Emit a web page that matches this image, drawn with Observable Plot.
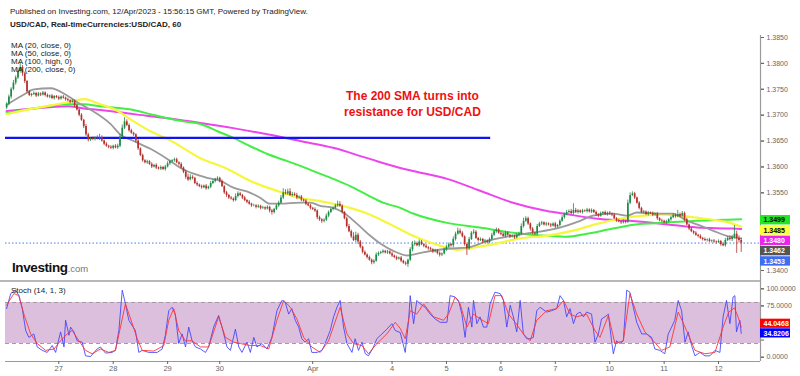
<!DOCTYPE html>
<html><head><meta charset="utf-8">
<script src="https://cdn.jsdelivr.net/npm/d3@7"></script>
<script src="https://cdn.jsdelivr.net/npm/@observablehq/plot@0.6"></script>
<style>
body{margin:0;background:#fff;}
#wrap{position:relative;width:800px;height:376px;overflow:hidden;font-family:"Liberation Sans",Arial,sans-serif;background:#fff;}
#wrap svg{display:block;}
.ov{position:absolute;white-space:nowrap;color:#222;}
</style></head><body><div id="wrap"></div>
<script>
// ---------- DATA ----------
const headerLine1 = "Published on Investing.com, 12/Apr/2023 - 15:56:15 GMT, Powered by TradingView.";
const headerLine2 = "USD/CAD, Real-timeCurrencies:USD/CAD, 60";
const maLegend = ["MA (20, close, 0)", "MA (50, close, 0)", "MA (100, high, 0)", "MA (200, close, 0)"];
const stochTitle = "Stoch (14, 1, 3)";
const annotation = "The 200 SMA turns into\nresistance for USD/CAD";
const annotationAt = [179, 1.3723]; // bar, price

// hourly closes, bar 0..324
const firstOpen = 1.3714;
const close = [
1.3721,1.3735,1.3750,1.3762,1.3772,1.3785,1.3792,1.3780,1.3765,1.3745,1.3738,1.3740,1.3742,1.3737,1.3741,1.3739,1.3743,1.3738,1.3735,1.3737,1.3732,1.3736,1.3734,1.3731,1.3735,
1.3733,1.3730,1.3728,1.3725,1.3727,1.3718,1.3710,1.3700,1.3690,1.3678,1.3662,1.3652,1.3655,1.3653,1.3656,1.3654,1.3657,1.3650,1.3644,1.3640,1.3638,1.3636,1.3640,1.3637,1.3640,
1.3658,1.3675,1.3687,1.3680,1.3670,1.3665,1.3662,1.3650,1.3635,1.3622,1.3612,1.3608,1.3610,1.3605,1.3600,1.3603,1.3598,1.3596,1.3599,1.3595,1.3600,1.3606,1.3610,1.3612,1.3614,
1.3608,1.3605,1.3598,1.3590,1.3580,1.3575,1.3580,1.3578,1.3568,1.3565,1.3562,1.3560,1.3563,1.3558,1.3561,1.3568,1.3572,1.3576,1.3578,1.3572,1.3562,1.3550,1.3545,1.3540,1.3538,
1.3535,1.3543,1.3548,1.3545,1.3540,1.3535,1.3532,1.3528,1.3525,1.3525,1.3522,1.3524,1.3520,1.3521,1.3519,1.3522,1.3515,1.3512,1.3518,1.3525,1.3530,1.3540,1.3550,1.3548,1.3552,
1.3545,1.3547,1.3545,1.3540,1.3542,1.3536,1.3534,1.3528,1.3525,1.3520,1.3518,1.3515,1.3502,1.3498,1.3495,1.3497,1.3505,1.3512,1.3518,1.3520,1.3525,1.3528,1.3524,1.3512,1.3500,
1.3485,1.3475,1.3465,1.3458,1.3468,1.3455,1.3445,1.3435,1.3430,1.3425,1.3420,1.3415,1.3418,1.3430,1.3433,1.3435,1.3437,1.3434,1.3436,1.3432,1.3428,1.3425,1.3422,1.3424,1.3418,
1.3414,1.3412,1.3420,1.3440,1.3450,1.3452,1.3448,1.3455,1.3450,1.3447,1.3444,1.3442,1.3440,1.3436,1.3438,1.3433,1.3430,1.3432,1.3440,1.3445,1.3450,1.3448,1.3460,1.3470,1.3476,
1.3472,1.3465,1.3450,1.3442,1.3460,1.3472,1.3474,1.3462,1.3458,1.3460,1.3455,1.3457,1.3454,1.3460,1.3468,1.3475,1.3478,1.3472,1.3470,1.3466,1.3472,1.3468,1.3465,1.3466,1.3463,
1.3468,1.3470,1.3485,1.3495,1.3500,1.3490,1.3480,1.3472,1.3470,1.3485,1.3490,1.3492,1.3488,1.3490,1.3488,1.3486,1.3490,1.3484,1.3487,1.3495,1.3502,1.3508,1.3512,1.3514,1.3510,
1.3516,1.3512,1.3515,1.3512,1.3515,1.3514,1.3517,1.3513,1.3516,1.3512,1.3508,1.3505,1.3510,1.3512,1.3508,1.3511,1.3509,1.3507,1.3500,1.3496,1.3494,1.3492,1.3495,1.3493,1.3530,
1.3545,1.3548,1.3540,1.3530,1.3520,1.3512,1.3513,1.3508,1.3511,1.3510,1.3507,1.3509,1.3500,1.3496,1.3495,1.3492,1.3494,1.3498,1.3502,1.3506,1.3504,1.3508,1.3505,1.3510,1.3498,
1.3488,1.3480,1.3475,1.3472,1.3468,1.3466,1.3462,1.3460,1.3458,1.3459,1.3456,1.3457,1.3455,1.3454,1.3456,1.3450,1.3448,1.3458,1.3462,1.3460,1.3464,1.3470,1.3462,1.3458,1.3453];
// wick lengths in pips above / below the body
const wickUp = [
3,4,3,5,4,6,10,4,3,2,3,2,3,2,3,2,3,2,3,2,3,2,2,3,2,
3,2,3,2,3,2,3,2,3,2,4,3,2,3,2,4,6,3,2,3,2,3,2,3,4,
5,6,8,4,3,3,2,2,3,2,3,2,3,2,3,2,3,2,3,2,3,4,3,2,3,
3,2,3,2,4,6,5,3,2,3,2,3,2,3,2,4,3,2,3,2,3,2,3,2,3,
2,5,4,3,2,3,2,3,2,3,2,3,2,3,2,3,2,3,2,3,4,5,8,6,5,
6,4,3,4,2,3,2,3,2,3,2,3,2,3,2,3,4,3,2,3,3,6,5,3,2,
3,4,3,8,6,4,3,2,3,2,3,2,3,4,3,2,3,2,3,2,3,2,3,2,3,
2,3,2,4,6,5,3,4,3,2,3,2,3,2,3,2,3,2,3,4,3,2,5,4,6,
4,3,2,3,4,3,5,3,2,3,2,3,2,3,4,3,4,3,2,3,4,3,2,3,2,
3,4,5,6,4,3,2,3,2,4,3,3,2,3,2,3,2,3,2,3,4,3,4,3,4,
13,4,3,2,3,2,3,2,3,2,3,2,3,2,3,2,3,2,3,2,3,2,3,2,6,
5,4,3,2,3,2,3,2,3,2,3,2,3,2,3,2,3,2,3,4,3,8,3,4,3,
3,2,3,2,3,2,3,2,3,2,3,2,3,2,3,2,3,4,3,5,4,17,6,5,4];
const wickDown = [
3,3,4,3,4,3,4,5,4,3,2,3,2,3,2,3,2,3,2,3,2,3,2,3,2,
2,3,2,3,2,3,2,3,2,4,3,4,3,2,3,2,3,2,3,2,3,2,3,2,3,
3,2,3,2,3,2,3,4,3,2,3,2,3,2,3,2,3,2,3,2,3,2,3,2,3,
2,3,2,3,4,3,2,3,2,3,2,3,2,3,2,3,2,3,2,3,2,3,4,3,2,
3,2,3,2,3,2,3,2,3,2,3,2,3,2,3,2,4,5,3,2,3,2,3,2,3,
2,3,2,3,2,3,2,3,2,3,2,3,4,3,4,3,2,3,2,3,2,3,2,3,2,
3,2,3,2,4,5,3,3,2,3,2,4,3,2,3,2,3,2,3,2,3,2,3,2,3,
2,3,6,3,4,3,2,3,2,3,2,3,2,3,2,3,4,3,2,3,2,3,4,3,2,
3,2,3,13,3,2,3,2,3,2,3,2,3,2,3,2,3,2,3,2,3,2,3,2,3,
2,3,2,3,2,3,4,3,2,3,2,3,2,3,2,3,2,3,2,3,2,3,2,3,2,
3,2,3,2,3,2,3,2,3,2,4,3,2,3,2,3,2,3,2,3,2,3,2,3,2,
3,2,3,2,3,2,3,2,3,2,3,2,3,2,3,2,3,2,3,2,3,2,3,2,3,
2,3,2,3,2,3,2,3,2,3,2,3,2,3,2,3,2,3,2,3,4,3,29,5,18];

// moving averages [bar, price]
const ma20 = [[0.4,1.3721],[8.4,1.3742],[12,1.3750],[19.4,1.3752],[27,1.3737],[32.6,1.3721],[38,1.3708],[45.8,1.3683],[50,1.3663],[56,1.3650],[63.4,1.3635],[71,1.3615],[76.7,1.3598],[82.4,1.3587],[88.5,1.3579],[94.3,1.3573],[100,1.3560],[107.5,1.3550],[112,1.3540],[116,1.3529],[120.7,1.3529],[129.5,1.3531],[134,1.3531],[138.3,1.3525],[144,1.3521],[148.5,1.3512],[154.6,1.3490],[160.4,1.3467],[164.8,1.3452],[170.5,1.3438],[176.7,1.3429],[183.7,1.3435],[194.3,1.3442],[203,1.3444],[213,1.3458],[223,1.3467],[232,1.3473],[244,1.3483],[253,1.3496],[258.6,1.3506],[267.4,1.3510],[273.6,1.3506],[278,1.3512],[289.4,1.3510],[293.8,1.3510],[300,1.3496],[305.7,1.3487],[311.5,1.3477],[317.6,1.3467],[324,1.3462]];
const ma50 = [[0,1.3702],[12,1.3713],[27,1.3725],[34,1.3731],[41.4,1.3721],[49,1.3708],[56,1.3688],[63.4,1.3669],[71,1.3654],[85.5,1.3617],[97.4,1.3596],[107.5,1.3573],[115,1.3560],[122,1.3550],[129.5,1.3540],[137,1.3535],[144,1.3529],[151.5,1.3521],[159,1.3510],[166,1.3496],[172,1.3483],[179.3,1.3467],[186.8,1.3454],[194.3,1.3444],[198.7,1.3440],[205.7,1.3444],[216,1.3452],[226.4,1.3462],[238.3,1.3467],[249.8,1.3477],[260.4,1.3490],[270.5,1.3500],[280.6,1.3506],[289.4,1.3508],[296.9,1.3506],[304.4,1.3502],[311.5,1.3498],[319,1.3492],[324,1.3485]];
const ma100 = [[0,1.3704],[12,1.3713],[27,1.3721],[34,1.3721],[41.4,1.3717],[56,1.3710],[63.4,1.3702],[71,1.3694],[78,1.3688],[85.5,1.3683],[93,1.3669],[100,1.3656],[107.5,1.3640],[115,1.3625],[122,1.3614],[129.5,1.3602],[137,1.3589],[144,1.3577],[151.5,1.3563],[159,1.3546],[166,1.3531],[173.6,1.3521],[179.3,1.3510],[194.3,1.3492],[208.8,1.3483],[223.3,1.3473],[238.3,1.3467],[247.1,1.3465],[256,1.3471],[267.4,1.3481],[279.3,1.3490],[289.4,1.3492],[304.4,1.3496],[324,1.3499]];
const ma200 = [[0,1.3708],[12,1.3713],[27,1.3717],[34,1.3713],[41.4,1.3710],[56,1.3702],[71,1.3694],[85.5,1.3685],[100,1.3675],[115,1.3663],[129.5,1.3650],[144,1.3637],[159,1.3617],[173.6,1.3598],[179.3,1.3592],[194.3,1.3577],[208.8,1.3554],[223.3,1.3531],[238.3,1.3515],[245.4,1.3510],[260.4,1.3500],[274.9,1.3496],[289.4,1.3490],[304.4,1.3483],[319,1.3481],[324,1.3480]];

const resistance = 1.3656, resistanceEndBar = 213.5;

// stochastic [bar, value]
const stochK = [[0,71],[1.8,93],[4,98],[5.4,90],[6.9,71],[8.4,39],[9.8,29],[12,34],[13.5,15],[15.7,10],[17.9,7],[20.1,17],[21.6,7],[23.8,37],[25.3,15],[26,54],[27.5,32],[28.2,44],[29.7,37],[31.1,24],[33.3,22],[34.8,2],[37,1],[39.9,12],[41.4,15],[43.6,6],[46.5,7],[48,10],[49.5,39],[51,98],[52.4,78],[53.9,54],[55.4,46],[56.8,39],[58.3,7],[59.8,10],[62.7,7],[66.4,7],[68.6,12],[70,32],[71.5,68],[73,73],[74.4,63],[75.9,20],[77.4,34],[78.9,15],[80.3,44],[81.8,24],[83.3,15],[85.5,12],[87.7,7],[89.1,15],[91.3,44],[93.5,61],[95,44],[97.2,15],[98.7,10],[100.9,41],[102.4,15],[103.8,7],[106,22],[107.5,7],[109,29],[110.4,15],[112.6,20],[114.8,12],[117,29],[119.2,68],[121.4,83],[122.9,80],[124.4,63],[125.8,71],[127.3,54],[128.8,44],[130.2,27],[131.7,22],[133.2,27],[134.6,7],[136.9,7],[139.1,10],[140.5,20],[142.7,39],[144.2,59],[145.7,73],[147.1,83],[148.6,44],[150.1,20],[152.3,7],[153.7,27],[155.2,10],[156.7,22],[158.2,5],[159.6,2],[161.8,15],[163.3,27],[165.5,34],[167.7,41],[169.9,49],[171.4,39],[173.6,36],[175.8,7],[177.3,54],[178,90],[179.5,49],[180.9,83],[182.4,78],[184.6,73],[186.8,63],[189,56],[191.2,51],[194.2,51],[195.6,90],[197.8,88],[199.3,83],[200.8,63],[202.2,29],[203.7,73],[205.2,44],[205.9,83],[207.4,49],[208.8,59],[210.3,44],[211.8,44],[213.2,78],[215.4,95],[217.7,93],[219.1,83],[220.6,44],[222.1,76],[223.5,59],[225,37],[226.5,83],[227.9,34],[229.4,27],[230.9,27],[232.3,29],[233.8,68],[235.3,73],[238.2,66],[240.4,68],[242.6,71],[244.1,90],[245.6,83],[247,59],[248.5,71],[250,49],[251.4,63],[252.9,66],[254.4,59],[255.8,66],[258,63],[259.5,22],[261,34],[262.4,56],[263.9,59],[265.4,63],[266.8,24],[267.6,5],[269,24],[270.5,20],[272,24],[273.5,98],[274.9,95],[276.4,73],[277.9,51],[280.1,34],[282.3,34],[284.5,29],[285.9,12],[288.1,10],[290.3,5],[291.8,34],[293.3,44],[294.7,54],[296.2,83],[297.7,68],[299.2,22],[300.6,37],[302.1,17],[303.6,2],[305.8,7],[308,2],[310.2,2],[312.4,10],[314.6,7],[316,59],[317.5,83],[319,49],[320.4,88],[321.2,90],[321.9,37],[323.4,54],[324,34.8206]];
const stochD = [[0,76],[3.2,93],[5.4,90],[7.6,63],[10.6,34],[13.5,20],[17.2,10],[20.9,12],[23.8,24],[26.7,34],[28.9,39],[31.9,24],[34.8,10],[37.7,5],[41.4,12],[45.1,7],[48,10],[50.2,44],[52.4,78],[55.4,49],[57.6,27],[59.8,10],[64.9,9],[69.3,17],[71.5,54],[73.7,71],[75.9,39],[78.9,24],[81.8,24],[85.5,15],[89.1,15],[93.5,59],[96.5,29],[100.1,22],[103.1,20],[107.5,17],[111.9,17],[115.6,12],[119.2,54],[122.2,83],[125.1,73],[128,56],[131,29],[134.6,15],[138.3,7],[142,24],[147.1,73],[150.1,34],[153,20],[156.7,17],[159.6,5],[163.3,20],[167.7,34],[171.4,51],[173.6,42],[175.8,27],[178,68],[180.9,63],[183.9,78],[188.3,59],[192.7,54],[194.9,63],[197.8,88],[200,78],[203,44],[205.9,63],[208.8,56],[212.5,49],[215.4,90],[218.4,90],[221.3,63],[224.3,51],[227.9,34],[230.9,24],[233.8,54],[238.2,68],[242.6,71],[245.6,83],[248.5,63],[251.4,59],[255.8,63],[259.5,39],[261.7,29],[265.4,61],[268.3,20],[272,24],[274.9,93],[277.9,63],[281.5,37],[285.2,24],[288.9,10],[292.5,15],[296.2,66],[299.9,39],[303.6,10],[308,5],[312.4,7],[316,44],[318.5,66],[321,72],[322.5,60],[324,44.0468]];
const stochBands = [20, 80];

const dayTickBar = [23,47,71,94,135,170,194,218,242,266,290,314];
const dayTickLabel = ["27","28","29","30","Apr","4","5","6","7","10","11","12"];
const priceTicks = [1.3400,1.3450,1.3500,1.3550,1.3600,1.3650,1.3700,1.3750,1.3800,1.3850];
const stochTicks = [0,25,50,75,100];

// ---------- STYLE / LAYOUT ----------
const FONT = "Liberation Sans, Arial, sans-serif";
const UP = "#1f8a48", DOWN = "#b3302b", AXIS = "#9a9a9a", TICKTXT = "#666";
const xDomain = [-0.5, 332.5], xRange = [5, 760];
const xS = Plot.scale({x: {domain: xDomain, range: xRange}});
const yMainOpts = {domain: [1.34, 1.385], range: [270, 37]};
const yS = Plot.scale({y: yMainOpts});
const yStochOpts = {domain: [0, 100], range: [75.7, 7.3]};
const ySt = Plot.scale({y: yStochOpts});
const xEnd = xDomain[1];
const boxEnd = xS.invert(790), textX = xS.invert(763);
const fmt4 = d3.format(".4f");

const bars = close.map((c, i) => {
  const o = i === 0 ? firstOpen : close[i - 1];
  return {i, o, c, c2: c === o ? c + 0.00003 : c,
    hi: Math.max(o, c) + wickUp[i] / 1e4, lo: Math.min(o, c) - wickDown[i] / 1e4, up: c >= o};
});
const upBars = bars.filter(d => d.up), dnBars = bars.filter(d => !d.up);

// last-value labels on the price axis
const lastItems = [
  {v: ma100.at(-1)[1], fill: "#22e622", text: "#000"},
  {v: ma50.at(-1)[1], fill: "#ffff3a", text: "#000"},
  {v: ma200.at(-1)[1], fill: "#ee22ee", text: "#fff"},
  {v: ma20.at(-1)[1], fill: "#555555", text: "#fff"},
  {v: close.at(-1), fill: "#3d6df0", text: "#fff"}
].sort((a, b) => b.v - a.v);
{ let prev = -Infinity;
  for (const d of lastItems) { const py = Math.max(yS.apply(d.v) + 1, prev + 10.3); prev = py; d.py = py;
    d.yc = yS.invert(py); d.y1 = yS.invert(py - 4.7); d.y2 = yS.invert(py + 4.7); } }
const stochItems = [
  {v: stochK.at(-1)[1], fill: "#0000ff", text: "#fff"},
  {v: stochD.at(-1)[1], fill: "#ff0000", text: "#fff"}
].sort((a, b) => a.v - b.v);
{ let prev = Infinity;
  for (const d of stochItems) { const py = Math.min(ySt.apply(d.v), prev - 9.6); prev = py; d.py = py;
    d.yc = ySt.invert(py); d.y1 = ySt.invert(py - 4.6); d.y2 = ySt.invert(py + 4.6); } }

// tick labels hidden behind a value box (as on the reference) are not drawn
const visibleTicks = (ticks, scale, items) => ticks.filter(t => items.every(d => Math.abs(scale.apply(t) - d.py) > 8.5));

const boxMarks = (items) => items.flatMap(d => [
  Plot.rect([d], {x1: xEnd, x2: boxEnd, y1: "y1", y2: "y2", fill: d.fill}),
  Plot.text([d], {x: textX, y: "yc", text: d => fmt4(d.v), textAnchor: "start", fill: d.text, fontSize: 7, fontWeight: "bold"})
]);
const mline = (data, stroke, w) => Plot.line(data, {x: d => d[0], y: d => d[1], stroke, strokeWidth: w, curve: "monotone-x"});

const main = Plot.plot({
  width: 800, height: 281, marginLeft: 0, marginRight: 40, marginTop: 0, marginBottom: 0,
  x: {domain: xDomain, range: xRange, axis: null},
  y: {...yMainOpts, label: null},
  style: {fontFamily: FONT, background: "#fff", overflow: "visible"},
  marks: [
    Plot.ruleY([close.at(-1)], {x1: xDomain[0], x2: xEnd, stroke: "#4a78ee", strokeWidth: 1, strokeDasharray: "1.5,2"}),
    mline(ma200, "#ee44ee", 2),
    mline(ma100, "#44ee44", 2),
    mline(ma50, "#f6f63c", 2.2),
    mline(ma20, "#9a9a9a", 1.8),
    Plot.ruleY([resistance], {x1: xDomain[0], x2: resistanceEndBar, stroke: "#1212f0", strokeWidth: 2.2}),
    Plot.ruleX(upBars, {x: "i", y1: "lo", y2: "hi", stroke: UP, strokeWidth: 0.8}),
    Plot.ruleX(dnBars, {x: "i", y1: "lo", y2: "hi", stroke: DOWN, strokeWidth: 0.8}),
    Plot.ruleX(upBars, {x: "i", y1: "o", y2: "c2", stroke: UP, strokeWidth: 1.7}),
    Plot.ruleX(dnBars, {x: "i", y1: "o", y2: "c2", stroke: DOWN, strokeWidth: 1.7}),
    Plot.ruleX([xEnd], {y1: yS.invert(35), y2: yS.invert(281), stroke: AXIS, strokeWidth: 1.2}),
    Plot.axisY(priceTicks, {anchor: "right", tickFormat: () => "", tickSize: 3, color: TICKTXT, label: null}),
    Plot.axisY(visibleTicks(priceTicks, yS, lastItems), {anchor: "right", tickFormat: fmt4, tickSize: 3, tickPadding: 3, fontSize: 7, color: TICKTXT, label: null}),
    Plot.text([annotation], {x: annotationAt[0], y: annotationAt[1], text: d => d, fill: "#ee1111", fontSize: 12, fontWeight: "bold", lineHeight: 1.3}),
    ...boxMarks(lastItems)
  ]
});

const labelMap = new Map(dayTickBar.map((b, i) => [b, dayTickLabel[i]]));
const stoch = Plot.plot({
  width: 800, height: 95, marginLeft: 0, marginRight: 40, marginTop: 0, marginBottom: 15,
  x: {domain: xDomain, range: xRange},
  y: {...yStochOpts, label: null},
  style: {fontFamily: FONT, background: "#fff", overflow: "visible"},
  marks: [
    Plot.rect([stochBands], {x1: xDomain[0], x2: xEnd, y1: d => d[0], y2: d => d[1], fill: "#dcbfdc"}),
    Plot.ruleY(stochBands, {x1: xDomain[0], x2: xEnd, stroke: "#a59aa5", strokeWidth: 1, strokeDasharray: "4,3"}),
    Plot.line(stochK, {x: d => d[0], y: d => d[1], stroke: "#4040ff", strokeWidth: 1, strokeOpacity: 0.85}),
    Plot.line(stochD, {x: d => d[0], y: d => d[1], stroke: "#ff3535", strokeWidth: 1, strokeOpacity: 0.9}),
    Plot.ruleY([ySt.invert(80)], {x1: xDomain[0], x2: xEnd, stroke: AXIS, strokeWidth: 1.2}),
    Plot.ruleX([xEnd], {y1: ySt.invert(0), y2: ySt.invert(80), stroke: AXIS, strokeWidth: 1.2}),
    Plot.axisX(dayTickBar, {anchor: "bottom", tickFormat: d => labelMap.get(d), tickSize: 3, tickPadding: 1, fontSize: 7.5, color: TICKTXT, label: null}),
    Plot.axisY(stochTicks, {anchor: "right", tickFormat: () => "", tickSize: 3, color: TICKTXT, label: null}),
    Plot.axisY(visibleTicks(stochTicks, ySt, stochItems), {anchor: "right", tickFormat: fmt4, tickSize: 3, tickPadding: 3, fontSize: 7, color: TICKTXT, label: null}),
    ...boxMarks(stochItems)
  ]
});

const wrap = document.getElementById("wrap");
wrap.append(main, stoch);

function ov(text, css) { const d = document.createElement("div"); d.className = "ov"; d.textContent = text; Object.assign(d.style, css); wrap.appendChild(d); return d; }
ov(headerLine1, {left: "10px", top: "7px", fontSize: "8px", lineHeight: "10px"});
ov(headerLine2, {left: "10px", top: "20px", fontSize: "8px", lineHeight: "10px", fontWeight: "bold"});
maLegend.forEach((t, i) => ov(t, {left: "11px", top: (40.5 + i * 8) + "px", fontSize: "8px", lineHeight: "9px"}));
ov(stochTitle, {left: "11px", top: "286px", fontSize: "8px", lineHeight: "10px"});
const sep = document.createElement("div");
Object.assign(sep.style, {position: "absolute", left: "0px", top: "280px", width: "760px", height: "2px", background: "#b8b8b8"});
wrap.appendChild(sep);
const logo = ov("", {left: "12px", top: "259px", lineHeight: "15px"});
logo.innerHTML = '<span style="font-size:13.5px;font-weight:bold;color:#111;letter-spacing:-0.4px">Investing</span><span style="font-size:9.5px;color:#777">.com</span>';
</script></body></html>
